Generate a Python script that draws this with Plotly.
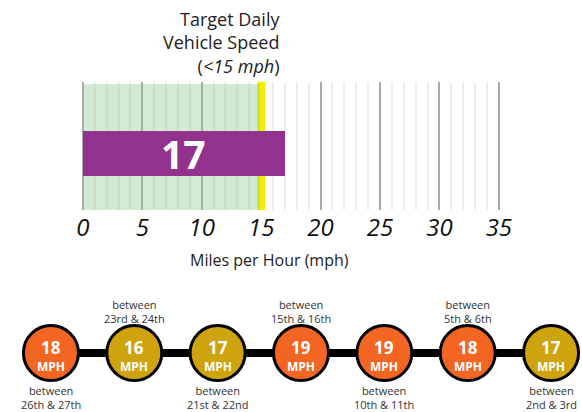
import plotly.graph_objects as go

# ---- data ----
avg_speed = 17
target_speed = 15
axis_max = 35
tick_values = [0, 5, 10, 15, 20, 25, 30, 35]
tick_labels = ["0", "5", "10", "15", "20", "25", "30", "35"]

trip_speeds = [18, 16, 17, 19, 19, 18, 17]
trip_labels = ["between<br>26th & 27th", "between<br>23rd & 24th", "between<br>21st & 22nd",
               "between<br>15th & 16th", "between<br>10th & 11th", "between<br>5th & 6th",
               "between<br>2nd & 3rd"]
label_above = [False, True, False, True, False, True, False]

REF_W = 582
S = 598 / 582          # horizontal design scale
W, H = 598, 412
FONT = "Open Sans"
ORANGE = "#F26522"
GOLD = "#CFA30E"
PURPLE = "#93318E"

def px_x(p):
    return p * S / W

def px_y(p):
    return 1 - p / H

ppu = (496.7 - 80) / 35
r0, r1 = -0.1, 35.1
dom_x = [px_x(78 + r0 * ppu), px_x(78 + r1 * ppu)]
dom_y = [px_y(210), px_y(81.7)]

fig = go.Figure()

fig.add_trace(go.Bar(
    x=[avg_speed], y=[0.44], orientation="h", width=0.35,
    marker=dict(color=PURPLE, line=dict(width=0)),
    hoverinfo="skip", xaxis="x", yaxis="y", showlegend=False,
))

idx = list(range(len(trip_speeds)))
colors = [ORANGE if s >= 18 else GOLD for s in trip_speeds]
fig.add_trace(go.Scatter(
    x=idx, y=[0] * len(idx), mode="lines",
    line=dict(color="black", width=8),
    xaxis="x2", yaxis="y2", showlegend=False, hoverinfo="skip",
))
fig.add_trace(go.Scatter(
    x=idx, y=[0] * len(idx), mode="markers",
    marker=dict(size=55, color=colors, line=dict(color="black", width=3)),
    xaxis="x2", yaxis="y2", showlegend=False, hoverinfo="skip",
))

annotations = []
annotations.append(dict(
    x=avg_speed / 2, y=0.44, xref="x", yref="y", showarrow=False,
    text=f"<b>{avg_speed}</b>", font=dict(family=FONT, size=39, color="white"),
))
annotations.append(dict(
    x=px_x(277), y=px_y(43), xref="paper", yref="paper", showarrow=False,
    xanchor="right", yanchor="middle", align="right",
    text="Target Daily<br>Vehicle Speed<br>(<i>&lt;15 mph</i>)",
    font=dict(family=FONT, size=18, color="#222"),
))
annotations.append(dict(
    x=px_x(265), y=px_y(260), xref="paper", yref="paper", showarrow=False,
    text="Miles per Hour (mph)", font=dict(family=FONT, size=16, color="#222"),
))

for i, (s, lab, above) in enumerate(zip(trip_speeds, trip_labels, label_above)):
    annotations.append(dict(
        x=i, y=0, xref="x2", yref="y2", showarrow=False, yshift=6,
        text=f"<b>{s}</b>", font=dict(family=FONT, size=17, color="white"),
    ))
    annotations.append(dict(
        x=i, y=0, xref="x2", yref="y2", showarrow=False, yshift=-13,
        text="<b>MPH</b>", font=dict(family=FONT, size=12, color="white"),
    ))
    annotations.append(dict(
        x=i, y=0, xref="x2", yref="y2", showarrow=False,
        yshift=42 if above else -44,
        text=lab, font=dict(family=FONT, size=11, color="#333"),
    ))

shapes = [
    dict(type="line", xref="x", yref="y", x0=target_speed, x1=target_speed,
         y0=0, y1=1.008, line=dict(color="#F5EC00", width=8), layer="between"),
    dict(type="rect", xref="x", yref="y", x0=0, x1=target_speed - 0.12,
         y0=0, y1=0.982, fillcolor="rgba(142,202,142,0.4)", line=dict(width=0),
         layer="between"),
]

# bottom axis mapping: index 0 -> 46px, spacing 83.5px (reference pixels)
sp = 83.5
x2_lo = -46 / sp
x2_hi = (REF_W - 46) / sp
fig.update_layout(
    width=W, height=H, margin=dict(l=0, r=0, t=0, b=0), autosize=False,
    paper_bgcolor="white", plot_bgcolor="white",
    bargap=0,
    xaxis=dict(
        domain=dom_x, range=[r0, r1], showline=False, zeroline=False,
        showgrid=True, gridcolor="#a8a8a8", gridwidth=2,
        tickmode="array", tickvals=tick_values, ticktext=tick_labels,
        ticks="", ticklabelstandoff=1,
        tickfont=dict(family=FONT, size=24, color="#111", style="italic"),
        minor=dict(tickmode="linear", tick0=0, dtick=1, showgrid=True,
                   gridcolor="#eeeeee", gridwidth=2),
        fixedrange=True,
    ),
    yaxis=dict(domain=dom_y, range=[0, 1], visible=False, fixedrange=True),
    xaxis2=dict(domain=[0, 1], range=[x2_lo, x2_hi], visible=False,
                anchor="y2", fixedrange=True),
    yaxis2=dict(domain=[0, 118 / H], range=[-1, 1], visible=False,
                anchor="x2", fixedrange=True),
    annotations=annotations,
    shapes=shapes,
)

fig.write_html(
    "out.html",
    config={"displayModeBar": False, "responsive": False},
    post_script="document.body.style.margin='0';document.body.style.padding='0';"
                "document.body.style.overflow='hidden';",
)
